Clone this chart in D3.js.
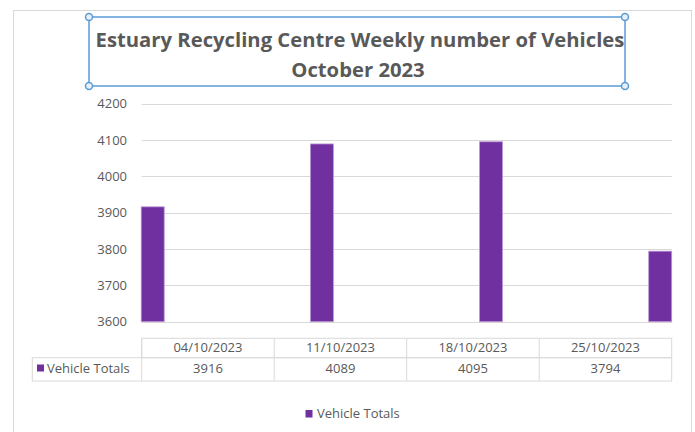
<!DOCTYPE html>
<html>
<head>
<meta charset="utf-8">
<script src="https://cdn.jsdelivr.net/npm/d3@7"></script>
<style>
  body { margin: 0; background: #fff; }
  svg { display: block; font-family: "Open Sans", "Noto Sans", sans-serif; }
</style>
</head>
<body>
<svg id="chart" width="695" height="432"></svg>
<script>
// data
const weeks = ["04/10/2023", "11/10/2023", "18/10/2023", "25/10/2023"];
const vehicleTotals = [3916, 4089, 4095, 3794];
const seriesName = "Vehicle Totals";
const yTicks = [3600, 3700, 3800, 3900, 4000, 4100, 4200];
const titleLines = ["Estuary Recycling Centre Weekly number of Vehicles", "October 2023"];

const purple = "#7030a0";
const textGrey = "#595959";
const lineGrey = "#d9d9d9";

const svg = d3.select("#chart");

// outer chart area border
svg.append("rect")
    .attr("x", 13.5).attr("y", 10.5)
    .attr("width", 678).attr("height", 440)
    .attr("fill", "#fff")
    .attr("stroke", lineGrey);

// scales
let plotLeft = 141.7, plotRight = 671.7;
let yScale = d3.scaleLinear().domain([3600, 4200]).range([321.7, 103.6]);
let colScale = d3.scaleBand().domain(weeks).range([plotLeft, plotRight]);
// bars sit spread across the plot, first one flush left, last one flush right
let barWidth = 23;
let barScale = d3.scalePoint().domain(weeks).range([plotLeft - 0.5, plotRight - barWidth]);

// gridlines
svg.append("g")
    .selectAll("line")
    .data(yTicks)
    .enter().append("line")
    .attr("x1", plotLeft).attr("x2", plotRight)
    .attr("y1", d => Math.round(yScale(d)) + 0.5)
    .attr("y2", d => Math.round(yScale(d)) + 0.5)
    .attr("stroke", lineGrey)
    .attr("stroke-width", 1);

// y axis labels
let yAxis = d3.axisLeft(yScale).tickValues(yTicks).tickSize(0).tickPadding(0).tickFormat(d3.format("d"));
let yg = svg.append("g")
    .attr("transform", "translate(127,0)")
    .call(yAxis);
yg.select(".domain").remove();
yg.selectAll("text")
    .attr("fill", textGrey)
    .style("font-size", "13px")
    .style("font-family", "'Open Sans', sans-serif");

// bars
svg.append("g")
    .selectAll("rect")
    .data(weeks)
    .enter().append("rect")
    .attr("x", d => barScale(d))
    .attr("y", (d, i) => yScale(vehicleTotals[i]))
    .attr("width", barWidth)
    .attr("height", (d, i) => yScale(3600) - yScale(vehicleTotals[i]))
    .attr("fill", purple)
    .attr("stroke", "#b99ad6")
    .attr("stroke-width", 0.8);

// data table
let tTop = 338.3, tMid = 357.7, tBot = 381;
let table = svg.append("g").attr("fill", "none").attr("stroke", lineGrey);
table.append("rect")
    .attr("x", plotLeft).attr("y", tTop)
    .attr("width", plotRight - plotLeft).attr("height", tMid - tTop);
table.append("rect")
    .attr("x", 32.3).attr("y", tMid)
    .attr("width", plotRight - 32.3).attr("height", tBot - tMid);
table.selectAll("line.col")
    .data(weeks)
    .enter().append("line")
    .attr("x1", d => colScale(d)).attr("x2", d => colScale(d))
    .attr("y1", tTop).attr("y2", tBot);

let cells = svg.append("g")
    .attr("fill", textGrey)
    .style("font-size", "13px")
    .attr("text-anchor", "middle");
cells.selectAll("text.head")
    .data(weeks)
    .enter().append("text")
    .attr("x", d => colScale(d) + colScale.bandwidth() / 2)
    .attr("y", tTop + 14)
    .text(d => d);
cells.selectAll("text.val")
    .data(weeks)
    .enter().append("text")
    .attr("x", d => colScale(d) + colScale.bandwidth() / 2)
    .attr("y", tMid + 15.5)
    .text((d, i) => vehicleTotals[i]);

svg.append("rect")
    .attr("x", 37).attr("y", 364.5)
    .attr("width", 7).attr("height", 7)
    .attr("fill", purple);
svg.append("text")
    .attr("x", 47).attr("y", tMid + 15.5)
    .attr("fill", textGrey)
    .style("font-size", "13px")
    .text(seriesName);

// legend
svg.append("rect")
    .attr("x", 305.5).attr("y", 410)
    .attr("width", 7).attr("height", 7.5)
    .attr("fill", purple);
svg.append("text")
    .attr("x", 317).attr("y", 417.5)
    .attr("fill", textGrey)
    .style("font-size", "13px")
    .text(seriesName);

// title with selection frame
let box = {x: 89, y: 17, w: 536, h: 69};
let tg = svg.append("g")
    .attr("fill", textGrey)
    .attr("font-weight", "bold")
    .attr("text-anchor", "middle");
let t1 = tg.append("text")
    .attr("x", 360).attr("y", 47)
    .style("font-size", "20px")
    .text(titleLines[0]);
// squeeze to the width the reference title takes
let w1 = t1.node().getComputedTextLength();
let fs = 20 * 529 / w1;
t1.style("font-size", fs + "px");
tg.append("text")
    .attr("x", 358).attr("y", 77)
    .style("font-size", fs + "px")
    .text(titleLines[1]);

svg.append("rect")
    .attr("x", box.x).attr("y", box.y)
    .attr("width", box.w).attr("height", box.h)
    .attr("fill", "none")
    .attr("stroke", "#5b9bd5")
    .attr("stroke-width", 1.5);
svg.append("g")
    .selectAll("circle")
    .data([[box.x, box.y], [box.x + box.w, box.y], [box.x, box.y + box.h], [box.x + box.w, box.y + box.h]])
    .enter().append("circle")
    .attr("cx", d => d[0]).attr("cy", d => d[1])
    .attr("r", 3.5)
    .attr("fill", "#e8f1fa")
    .attr("stroke", "#5b9bd5")
    .attr("stroke-width", 1.5);
</script>
</body>
</html>
